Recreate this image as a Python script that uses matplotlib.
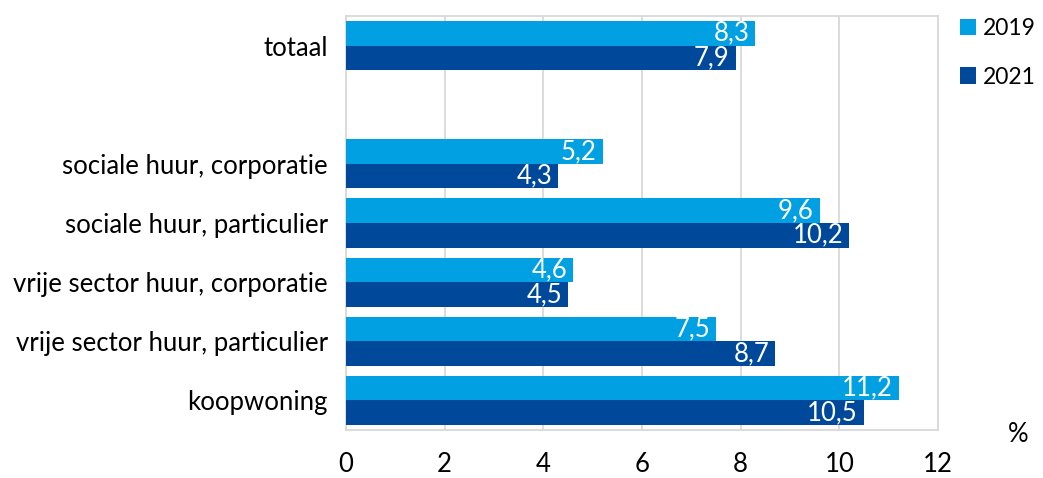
import numpy as np
import matplotlib.pyplot as plt

plt.rcParams['font.family'] = ['Lato', 'DejaVu Sans']

categories = ['totaal', '', 'sociale huur, corporatie', 'sociale huur, particulier',
              'vrije sector huur, corporatie', 'vrije sector huur, particulier', 'koopwoning']
v2019 = [8.3, None, 5.2, 9.6, 4.6, 7.5, 11.2]
v2021 = [7.9, None, 4.3, 10.2, 4.5, 8.7, 10.5]
years = ['2019', '2021']
colors = ['#00A0E3', '#004899']

fs = 18.5

fig = plt.figure(figsize=(10.43, 4.78), dpi=100)
ax = fig.add_axes([346/1043, 48/478, 592/1043, 414/478])

y = np.arange(len(categories))
h = 0.415
for vals, off, col, lab in [(v2019, -h/2, colors[0], years[0]), (v2021, h/2, colors[1], years[1])]:
    idx = [i for i, v in enumerate(vals) if v is not None]
    w = [vals[i] for i in idx]
    bars = ax.barh(y[idx] + off, w, height=h, color=col, label=lab, zorder=3)
    for b, v in zip(bars, w):
        ax.text(v - 0.12, b.get_y() + b.get_height()/2, f'{v:.1f}'.replace('.', ','),
                ha='right', va='center', color='white', fontsize=fs, zorder=4)

ax.set_xlim(0, 12)
ax.set_ylim(len(categories) - 0.5, -0.5)
ax.set_xticks(range(0, 13, 2))
ax.set_yticks([i for i, c in enumerate(categories) if c])
ax.set_yticklabels([c for c in categories if c])
ax.tick_params(axis='both', length=0, labelsize=fs)
ax.tick_params(axis='x', pad=16)
ax.tick_params(axis='y', pad=13)
ax.grid(axis='x', color='#D9D9D9', linewidth=1.3, zorder=0)
for s in ax.spines.values():
    s.set_color('#D9D9D9')
    s.set_linewidth(1.3)

fig.text(1018/1043, 1 - 435/478, '%', ha='center', va='center', fontsize=fs)
fig.legend(loc='upper left', bbox_to_anchor=(960/1043, 1 - 18/478), frameon=False,
           fontsize=16.5, handlelength=0.7, handleheight=0.7, handletextpad=0.3,
           labelspacing=1.2, borderaxespad=0, borderpad=0)

fig.savefig('out.png', dpi=100)
